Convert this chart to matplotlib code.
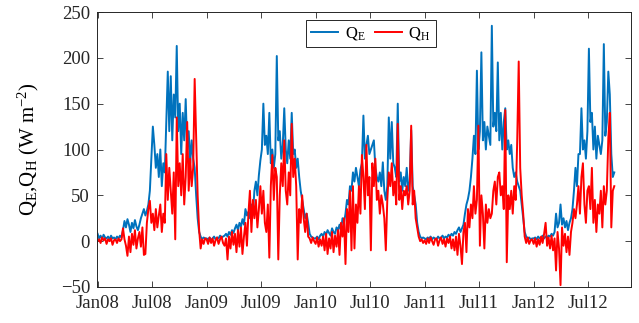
import pandas as pd
import matplotlib
matplotlib.use('Agg')
import matplotlib.pyplot as plt
import matplotlib.dates as mdates

plt.rcParams['font.family'] = 'Liberation Serif'
plt.rcParams['mathtext.default'] = 'regular'

# Latent heat flux QE, read every 5 days from Jan 2008
qe_2008 = [8, 3, 6, 2, 7, 4, 3, 5, 2, 6, 3, 4, 2, 5, 3, 6, 4,
           12, 22, 15, 24, 18, 10, 20, 14, 23, 16, 12, 18, 25,
           30, 35, 28, 33, 40, 55, 90, 125, 105,
           80, 95, 70, 100, 60, 85, 75, 130, 185, 120,
           180, 110, 160, 135, 213, 120, 150, 95, 140, 110, 155,
           100, 120, 85, 110, 90, 80, 50, 25, 10, 5, 2, 4, 3]
qe_2009 = [3, 2, 4, 1, 3, 5, 2, 4, 3, 6, 4, 5,
           6, 8, 5, 10, 7, 12, 9, 14, 18, 12, 20, 16, 24, 18,
           35, 28, 32, 25, 40, 30, 55, 65, 50, 72, 88, 100, 150,
           105, 115, 95, 140, 85, 100, 80, 95, 202, 110, 120, 90, 105, 145,
           100, 85, 110, 90, 140, 95, 100, 80, 90, 70, 55, 45, 35,
           25, 30, 20, 8, 5, 4, 3]
qe_2010 = [3, 5, 2, 6, 8, 5, 10, 7, 12, 9, 6, 14, 10, 8, 15, 12,
           18, 12, 25, 20, 30, 45, 40, 60, 55, 75, 65, 80, 70, 60, 78, 85,
           137, 90, 105, 115, 95, 100, 105, 110, 80, 70, 65, 75, 60, 86,
           55, 45, 60, 135, 90, 130, 85, 80, 70, 150,
           65, 75, 55, 70, 60, 80, 55, 65, 121, 60, 50, 40, 20, 10, 5, 3, 4]
qe_2011 = [3, 2, 4, 3, 5, 2, 4, 3, 2, 5, 3, 4, 6, 3, 5, 4, 7, 5, 8, 6,
           10, 8, 12, 15, 10, 14, 18, 30, 40, 46, 55, 70, 90, 115, 95,
           186, 100, 120, 206, 110, 130, 100, 125, 115, 105,
           235, 125, 140, 120, 195, 110, 140, 100, 130, 145,
           100, 110, 95, 105, 80, 70, 75, 65, 60, 55, 40, 25,
           10, 5, 3, 4, 2, 3]
qe_2012 = [3, 4, 2, 5, 3, 4, 6, 3, 5, 4, 6, 5, 8, 6, 10,
           30, 15, 20, 40, 18, 25, 15, 22, 12, 20, 25, 35,
           55, 80, 60, 95, 95, 145, 100, 110, 90, 120, 210, 130, 140,
           100, 125, 90, 115, 105, 95, 110, 215, 115, 130, 185, 160, 95, 70, 75]

# Sensible heat flux QH
qh_2008 = [0, 2, -2, 4, 1, 3, -3, 2, 0, 3, -4, 1, 2, -2, 3, 0, 2,
           14, 2, -5, -16, 5, -12, 8, -4, 12, -8, 3, 10, -6,
           15, -15, -14, 20, 35, 44, 20, 30, 12,
           35, 15, 28, 40, 10, 30, 20, 95, 45, 80,
           55, 30, 75, 2, 135, 60, 85, 50, 95, 40, 70,
           130, 55, 90, 60, 80, 177, 115, 50, 12, -8, 2, -3, 3]
qh_2009 = [2, -3, 4, -2, 3, -5, 1, 4, -3, 2, 5, -2,
           -5, 3, -20, 5, -8, 10, -4, 8, -12, 12, -6, 15, -14, 5,
           20, -5, 30, 55, 10, 45, 25, 45, 15, 35, 60, 30, 55,
           20, 10, 40, -18, 60, 94, 45, 80, 70, -20, 50, 85, 60, 110,
           55, 40, 75, 50, 128, 70, 90, 60, -20, 35, 20, 50, 25,
           10, 30, 5, 3, -2, 4, 0]
qh_2010 = [-3, 4, -6, 2, -5, 5, -10, 8, -14, 3, -8, 10, -12, 6, -6, 12,
           -15, 20, 5, 25, -25, 35, 10, 55, -10, 60, -8, 40, 20, 60, 30, 94,
           70, 35, 105, 50, 70, -10, 85, 60, 90, 45, 55, 30, 50, 40,
           25, -10, 45, 75, 60, 85, 50, 65, 40, 128,
           45, 60, 35, 55, 50, 60, 40, 55, 126, 40, 55, 25, 15, 5, 0, 2, -2]
qh_2011 = [1, -3, 3, -2, 4, 0, -4, 2, 3, -5, 1, 4, -3, 2, -6, 3, -2, 5, -8, 2,
           -10, 5, -15, 8, -5, -25, 10, 20, -12, 35, 15, 40, 25, 60, 30,
           45, 126, -5, 50, 30, -8, 40, 20, 35, 25,
           30, 55, 65, 40, 70, 75, 50, 60, 35, 143,
           -23, 50, 35, 55, 30, 60, 45, 110, 196, 80, 50, 30,
           5, -2, 4, -3, 1, 2]
qh_2012 = [-3, 3, -6, 2, -4, 5, -2, 8, 20, -5, 4, -8, 6, -10, 3,
           -32, 10, -8, -48, 15, -5, 8, -12, 5, -15, 10, 20,
           35, 25, 40, 60, 30, 70, 85, 40, 20, 55, 60, 35, 80,
           20, 45, 10, 40, 30, 55, 15, 60, 40, 55, 112, 140, 15, 55, 60]

qe = qe_2008 + qe_2009 + qe_2010 + qe_2011 + qe_2012
qh = qh_2008 + qh_2009 + qh_2010 + qh_2011 + qh_2012
dates = pd.date_range('2008-01-01', periods=len(qe), freq='5D')

fig = plt.figure(figsize=(6.39, 3.23), dpi=100)
ax = fig.add_axes([0.1518, 0.1115, 0.8357, 0.8513])

ax.plot(dates, qe, color='#0072BD', lw=1.4, label='$Q_E$')
ax.plot(dates, qh, color='#FF0000', lw=1.4, label='$Q_H$')

ax.set_xlim(pd.Timestamp('2007-12-30'), pd.Timestamp('2012-11-21'))
ax.set_ylim(-50, 250)
ax.set_yticks(range(-50, 251, 50))
ax.xaxis.set_major_locator(mdates.MonthLocator(bymonth=[1, 7]))
ax.xaxis.set_major_formatter(mdates.DateFormatter('%b%y'))

ax.tick_params(direction='in', top=True, right=True, length=4, width=0.6,
               labelsize=13.5, colors='#262626', pad=5)
ax.tick_params(axis='x', pad=6)
for s in ax.spines.values():
    s.set_color('#262626')
    s.set_linewidth(0.7)

ax.set_ylabel('$Q_E$,$Q_H$ (W m$^{-2}$)', fontsize=15)
ax.yaxis.set_label_coords(-0.105, 0.5)

leg = ax.legend(loc='upper center', bbox_to_anchor=(0.513, 0.97), ncol=2,
                fontsize=12, handlelength=1.6, columnspacing=0.6,
                fancybox=False, framealpha=1, edgecolor='#262626',
                borderpad=0.3, handletextpad=0.4, borderaxespad=0)
leg.get_frame().set_linewidth(0.7)

fig.savefig('out.png', dpi=100)
